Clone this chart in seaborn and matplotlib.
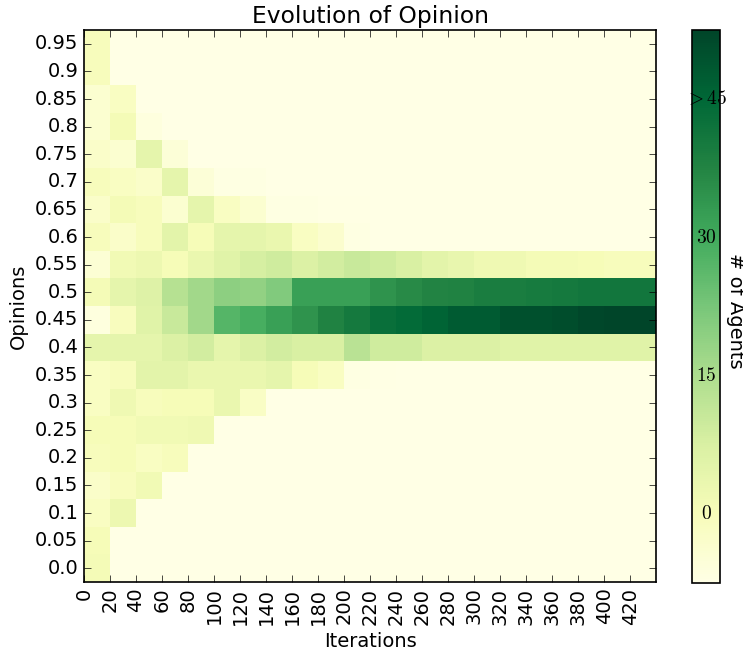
import numpy as np
import pandas as pd
import matplotlib
matplotlib.use('Agg')
import matplotlib.pyplot as plt
import seaborn as sns

# opinion bins, top row first (heatmap draws row 0 at the top)
opinions = ['0.95', '0.9', '0.85', '0.8', '0.75', '0.7', '0.65', '0.6', '0.55', '0.5',
            '0.45', '0.4', '0.35', '0.3', '0.25', '0.2', '0.15', '0.1', '0.05', '0.0']
iterations = [0, 20, 40, 60, 80, 100, 120, 140, 160, 180, 200,
              220, 240, 260, 280, 300, 320, 340, 360, 380, 400, 420]

# number of agents per opinion bin (rows) and iteration (columns)
agent_counts = [
    [6, 0, 0, 0, 0, 0, 0, 0, 0, 0, 0, 0, 0, 0, 0, 0, 0, 0, 0, 0, 0, 0],                       # 0.95
    [6, 0, 0, 0, 0, 0, 0, 0, 0, 0, 0, 0, 0, 0, 0, 0, 0, 0, 0, 0, 0, 0],                       # 0.9
    [3, 5, 0, 0, 0, 0, 0, 0, 0, 0, 0, 0, 0, 0, 0, 0, 0, 0, 0, 0, 0, 0],                       # 0.85
    [3, 7, 1, 0, 0, 0, 0, 0, 0, 0, 0, 0, 0, 0, 0, 0, 0, 0, 0, 0, 0, 0],                       # 0.8
    [4, 3, 10, 2, 0, 0, 0, 0, 0, 0, 0, 0, 0, 0, 0, 0, 0, 0, 0, 0, 0, 0],                      # 0.75
    [6, 5, 4, 10, 2, 0.5, 0.5, 0, 0, 0, 0, 0, 0, 0, 0, 0, 0, 0, 0, 0, 0, 0],                  # 0.7
    [4, 7, 6, 3, 10, 5, 3, 0.5, 0.5, 0.3, 0.3, 0, 0, 0, 0, 0, 0, 0, 0, 0, 0, 0],              # 0.65
    [6, 4, 6, 10.5, 6.5, 10, 10, 9, 5, 3.5, 0.5, 0, 0, 0, 0, 0, 0, 0, 0, 0, 0, 0],            # 0.6
    [2.5, 7.5, 8.5, 6.5, 9, 11, 13, 14, 12, 13.5, 15, 14, 12.5, 10.5, 9.5, 8, 8, 7, 7, 6.5, 6, 6],  # 0.55
    [7, 10, 11.5, 17.5, 20, 22.5, 22, 24, 33, 33, 33, 35, 36.5, 37.5, 38, 39, 39, 39.5, 40, 40.5, 40.5, 40.5],  # 0.5
    [1, 5.5, 11, 15, 20, 29, 30.5, 33, 35, 38, 40, 42, 43, 44.5, 46, 46, 48, 48, 48.5, 49.5, 50, 50],  # 0.45
    [10, 10, 10, 12, 13.5, 10, 12, 13.5, 12.5, 12.5, 17, 14, 14, 12, 12, 12, 11, 11, 11, 11, 11, 11],  # 0.4
    [5, 6, 10.5, 10.5, 9, 9, 9, 10, 6.5, 5, 0.5, 0.3, 0, 0, 0, 0, 0, 0, 0, 0, 0, 0],          # 0.35
    [5, 8, 6, 6.5, 6.5, 9, 4.5, 0, 0, 0, 0, 0, 0, 0, 0, 0, 0, 0, 0, 0, 0, 0],                 # 0.3
    [6.5, 6.5, 7.5, 7.5, 8, 0, 0, 0, 0, 0, 0, 0, 0, 0, 0, 0, 0, 0, 0, 0, 0, 0],               # 0.25
    [6, 6.5, 5, 6, 0, 0, 0, 0, 0, 0, 0, 0, 0, 0, 0, 0, 0, 0, 0, 0, 0, 0],                     # 0.2
    [4, 5.5, 7.5, 0, 0, 0, 0, 0, 0, 0, 0, 0, 0, 0, 0, 0, 0, 0, 0, 0, 0, 0],                   # 0.15
    [5, 8.5, 0, 0, 0, 0, 0, 0, 0, 0, 0, 0, 0, 0, 0, 0, 0, 0, 0, 0, 0, 0],                     # 0.1
    [6.5, 0, 0, 0, 0, 0, 0, 0, 0, 0, 0, 0, 0, 0, 0, 0, 0, 0, 0, 0, 0, 0],                     # 0.05
    [7, 0, 0, 0, 0, 0, 0, 0, 0, 0, 0, 0, 0, 0, 0, 0, 0, 0, 0, 0, 0, 0],                       # 0.0
]
cbar_labels = ['$0$', '$15$', '$30$', '${>}45$']

plt.style.use('classic')
plt.rcParams['font.size'] = 14

df = pd.DataFrame(agent_counts, index=opinions, columns=iterations)

fig = plt.figure(figsize=(7.43, 6.53), dpi=100, facecolor='white')
ax = fig.add_axes([0.1131, 0.1087, 0.7699, 0.8453])
cax = fig.add_axes([0.9314, 0.1072, 0.0377, 0.8469])

sns.heatmap(df, ax=ax, cbar_ax=cax, cmap='YlGn', vmin=0, vmax=50, linewidths=0)

# iteration labels sit on the cell edges, opinion labels on the row centres
ax.set_xticks(np.arange(len(iterations)))
ax.set_xticklabels(iterations, rotation=90)
ax.set_yticks(np.arange(len(opinions)) + 0.5)
ax.set_yticklabels(opinions, rotation=0)
ax.tick_params(direction='in', top=True, right=True, length=5)
for sp in ax.spines.values():
    sp.set_visible(True)
    sp.set_linewidth(1.2)

ax.set_title('Evolution of Opinion')
ax.set_xlabel('Iterations')
ax.set_ylabel('Opinions')

cbar = ax.collections[0].colorbar
cbar.outline.set_visible(True)
cbar.outline.set_linewidth(1.2)
cbar.set_ticks([])
for j, lab in enumerate(cbar_labels):
    cbar.ax.text(0.5, (2 * j + 1) / 8.0, lab, ha='center', va='center',
                 transform=cbar.ax.transAxes)
fig.text(735 / 743, 1 - 311 / 653, '# of Agents', rotation=270,
         ha='center', va='center')

fig.savefig('out.png', dpi=100, facecolor='white')
